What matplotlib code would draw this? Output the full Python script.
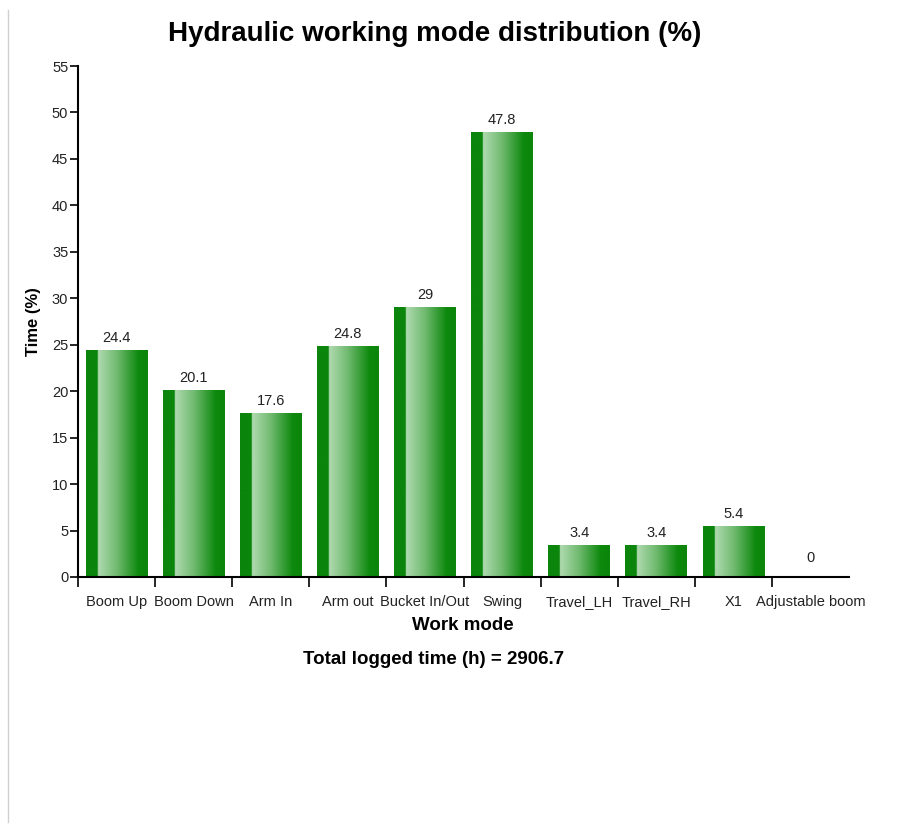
import numpy as np
import matplotlib.pyplot as plt
from matplotlib.colors import LinearSegmentedColormap
from matplotlib.lines import Line2D

plt.rcParams['font.family'] = ['Liberation Sans', 'DejaVu Sans']

modes = ['Boom Up', 'Boom Down', 'Arm In', 'Arm out', 'Bucket In/Out', 'Swing',
         'Travel_LH', 'Travel_RH', 'X1', 'Adjustable boom']
share = [24.4, 20.1, 17.6, 24.8, 29, 47.8, 3.4, 3.4, 5.4, 0]
total_hours = 2906.7
yticks = list(range(0, 56, 5))

fig = plt.figure(figsize=(9.1, 8.26), dpi=100)
ax = fig.add_axes([78 / 910, (826 - 577) / 826, 771 / 910, 511 / 826])

# horizontal shading used inside each bar
shade = LinearSegmentedColormap.from_list('bar_shade', [
    (0.0, '#0b850b'), (0.185, '#0b850b'), (0.195, '#b0dab0'),
    (0.5, '#70ba70'), (0.85, '#0d890d'), (1.0, '#0b850b')])
grad = np.linspace(0, 1, 256).reshape(1, -1)

x = np.arange(len(modes))
width = 0.8
bars = ax.bar(x, share, width=width, color='none', edgecolor='none')
for b in bars:
    h = b.get_height()
    if h <= 0:
        continue
    x0 = b.get_x()
    ax.imshow(grad, cmap=shade, aspect='auto', extent=(x0, x0 + width, 0, h),
              interpolation='bilinear', zorder=2)

for xi, v in zip(x, share):
    off = 4 if v > 0 else 9
    ax.annotate(f'{v:g}', (xi, v), xytext=(0, off), textcoords='offset points',
                ha='center', va='bottom', fontsize=10.5, color='#222222')

ax.set_xlim(-0.5, len(modes) - 0.5)
ax.set_ylim(0, 55)
ax.set_yticks(yticks)
ax.set_xticks(x)
ax.set_xticklabels(modes, fontsize=10.5, color='#222222', va='baseline')
ax.set_xticks(np.arange(len(modes)) - 0.5, minor=True)
ax.tick_params(axis='x', which='major', length=0, pad=21)
ax.tick_params(axis='x', which='minor', length=7, width=1.2, color='black')
ax.tick_params(axis='y', length=6, width=1.2, labelsize=10.5, pad=1, labelcolor='#222222')

for s in ['top', 'right']:
    ax.spines[s].set_visible(False)
ax.spines['left'].set_linewidth(1.5)
ax.spines['bottom'].set_linewidth(1.5)

fig.text(435 / 910, 1 - 34 / 826, 'Hydraulic working mode distribution (%)',
         ha='center', va='center', fontsize=20, fontweight='bold')
ax.set_ylabel('Time (%)', fontsize=12, fontweight='bold', labelpad=8)
fig.text(463 / 910, 1 - 625 / 826, 'Work mode',
         ha='center', va='center', fontsize=13.5, fontweight='bold')
fig.text(434 / 910, 1 - 660 / 826, f'Total logged time (h) = {total_hours}',
         ha='center', va='center', fontsize=13.5, fontweight='bold')

# thin page border on the left
fig.add_artist(Line2D([8 / 910, 8 / 910], [1 - 10 / 826, 1 - 822 / 826],
                      transform=fig.transFigure, color='#d0d0d0', linewidth=1))

fig.savefig('out.png', dpi=100)
